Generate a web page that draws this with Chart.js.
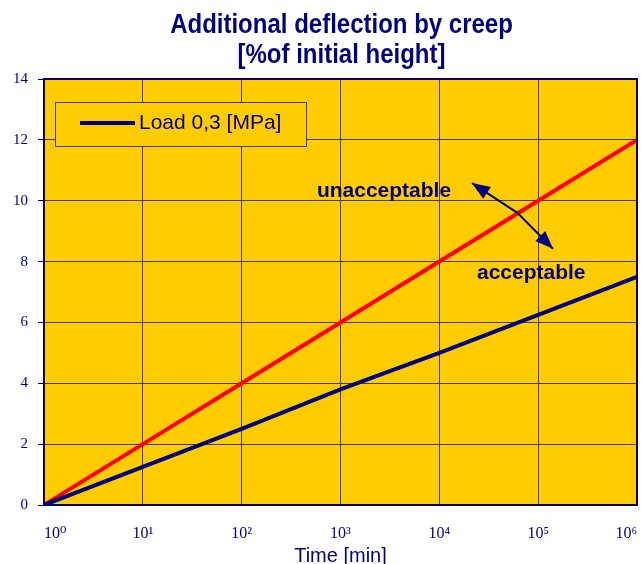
<!DOCTYPE html>
<html>
<head>
<meta charset="utf-8">
<script src="https://cdn.jsdelivr.net/npm/chart.js@4"></script>
<style>
  html, body { margin: 0; padding: 0; background: #fff; }
  #wrap { width: 641px; height: 564px; }
</style>
</head>
<body>
<div id="wrap"><canvas id="creepChart" width="641" height="564"></canvas></div>
<script>
// data
const loadTime = [1, 10, 100, 316, 1000, 10000, 100000, 1000000];
const loadDeflection = [0, 1.25, 2.5, 3.15, 3.8, 5.0, 6.25, 7.5];
const limitTime = [1, 10, 100, 1000, 10000, 100000, 1000000];
const limitDeflection = [0, 2, 4, 6, 8, 10, 12];
const xTickValues = [1, 10, 100, 1000, 10000, 100000, 1000000];
const xTickLabels = ['10⁰', '10¹', '10²', '10³', '10⁴', '10⁵', '10⁶'];
const titleLines = ['Additional deflection by creep', '[%of initial height]'];
const legendLabel = 'Load 0,3 [MPa]';

const NAVY = '#000080';
const YELLOW = '#FFCC00';
const GRID = '#3c3c6c';

// annotation spots, in data units (time, deflection)
const notes = [
  { text: 'unacceptable', x: Math.pow(10, 3.44), y: 10.3 },
  { text: 'acceptable', x: Math.pow(10, 4.93), y: 7.62 }
];
const arrowPath = [
  { x: Math.pow(10, 4.33), y: 10.58 },
  { x: Math.pow(10, 4.79), y: 9.6 },
  { x: Math.pow(10, 5.15), y: 8.42 }
];

function pairs(xs, ys) {
  return xs.map((x, i) => ({ x, y: ys[i] }));
}

function arrowHead(ctx, from, to) {
  const ang = Math.atan2(to.y - from.y, to.x - from.x);
  const len = 18, half = 7;
  ctx.beginPath();
  ctx.moveTo(to.x, to.y);
  ctx.lineTo(to.x - len * Math.cos(ang) + half * Math.sin(ang), to.y - len * Math.sin(ang) - half * Math.cos(ang));
  ctx.lineTo(to.x - len * Math.cos(ang) - half * Math.sin(ang), to.y - len * Math.sin(ang) + half * Math.cos(ang));
  ctx.closePath();
  ctx.fill();
}

const decorPlugin = {
  id: 'decor',
  beforeDraw(chart) {
    const { ctx, chartArea: a } = chart;
    ctx.save();
    ctx.fillStyle = YELLOW;
    ctx.fillRect(a.left, a.top, a.right - a.left, a.bottom - a.top);
    ctx.restore();
  },
  afterDraw(chart) {
    const { ctx, chartArea: a, scales } = chart;
    ctx.save();

    // frame
    ctx.strokeStyle = NAVY;
    ctx.lineWidth = 2;
    ctx.strokeRect(a.left, a.top, a.right - a.left, a.bottom - a.top);

    // title (the original is a bit stretched vertically)
    const cx = (a.left + a.right) / 2 + 1;
    ctx.fillStyle = NAVY;
    ctx.font = 'bold 24px "Liberation Sans", Arial, sans-serif';
    ctx.textAlign = 'center';
    ctx.textBaseline = 'alphabetic';
    [[titleLines[0], 33], [titleLines[1], 63]].forEach(([t, y]) => {
      ctx.save();
      ctx.translate(cx, y);
      ctx.scale(1, 1.12);
      ctx.fillText(t, 0, 0);
      ctx.restore();
    });

    // legend box
    const lx = a.left + 11, ly = a.top + 23;
    ctx.lineWidth = 1;
    ctx.strokeStyle = GRID;
    ctx.fillStyle = YELLOW;
    ctx.fillRect(lx, ly, 251, 44);
    ctx.strokeRect(lx + 0.5, ly + 0.5, 251, 44);
    ctx.strokeStyle = NAVY;
    ctx.lineWidth = 4;
    ctx.beginPath();
    ctx.moveTo(lx + 25, ly + 21);
    ctx.lineTo(lx + 80, ly + 21);
    ctx.stroke();
    ctx.fillStyle = NAVY;
    ctx.font = '21px "Liberation Sans", Arial, sans-serif';
    ctx.textAlign = 'left';
    ctx.textBaseline = 'middle';
    ctx.fillText(legendLabel, lx + 84, ly + 21);

    // annotations
    ctx.font = 'bold 21px "Liberation Sans", Arial, sans-serif';
    ctx.textAlign = 'center';
    notes.forEach(n => {
      ctx.fillText(n.text, scales.x.getPixelForValue(n.x), scales.y.getPixelForValue(n.y));
    });

    const pts = arrowPath.map(p => ({ x: scales.x.getPixelForValue(p.x), y: scales.y.getPixelForValue(p.y) }));
    ctx.strokeStyle = NAVY;
    ctx.lineWidth = 2;
    ctx.beginPath();
    ctx.moveTo(pts[0].x, pts[0].y);
    pts.slice(1).forEach(p => ctx.lineTo(p.x, p.y));
    ctx.stroke();
    ctx.fillStyle = NAVY;
    arrowHead(ctx, pts[1], pts[0]);
    arrowHead(ctx, pts[1], pts[2]);

    ctx.restore();
  }
};

new Chart(document.getElementById('creepChart'), {
  type: 'line',
  data: {
    datasets: [
      {
        label: legendLabel,
        data: pairs(loadTime, loadDeflection),
        borderColor: NAVY,
        borderWidth: 4,
        pointRadius: 0,
        fill: false
      },
      {
        label: 'limit',
        data: pairs(limitTime, limitDeflection),
        borderColor: '#FF0000',
        borderWidth: 4,
        pointRadius: 0,
        fill: false
      }
    ]
  },
  options: {
    responsive: false,
    animation: false,
    layout: { padding: { top: 79, right: 4, left: 0, bottom: 0 } },
    plugins: {
      legend: { display: false },
      title: { display: false },
      tooltip: { enabled: false }
    },
    scales: {
      x: {
        type: 'logarithmic',
        min: 1,
        max: 1000000,
        afterBuildTicks(scale) {
          scale.ticks = xTickValues.map(v => ({ value: v, major: true }));
        },
        afterFit(scale) {
          scale.height = 59;
          scale.paddingLeft = 0;
          scale.paddingRight = 0;
        },
        ticks: {
          align: 'inner',
          padding: 19,
          maxRotation: 0,
          autoSkip: false,
          color: NAVY,
          font: { family: '"Liberation Serif", "DejaVu Serif", serif', size: 16 },
          callback: (v) => xTickLabels[xTickValues.indexOf(v)]
        },
        grid: { color: GRID, lineWidth: 1, drawTicks: false },
        border: { color: NAVY, width: 2 },
        title: {
          display: true,
          text: 'Time [min]',
          color: NAVY,
          padding: { top: 0, bottom: -4 },
          font: { family: '"Liberation Sans", Arial, sans-serif', size: 20 }
        }
      },
      y: {
        min: 0,
        max: 14,
        afterFit(scale) { scale.width = 44; },
        ticks: {
          stepSize: 2,
          padding: 10,
          color: NAVY,
          font: { family: '"Liberation Serif", "DejaVu Serif", serif', size: 15 }
        },
        grid: { color: GRID, lineWidth: 1, tickLength: 6, tickColor: NAVY },
        border: { color: NAVY, width: 2 }
      }
    }
  },
  plugins: [decorPlugin]
});
</script>
</body>
</html>
